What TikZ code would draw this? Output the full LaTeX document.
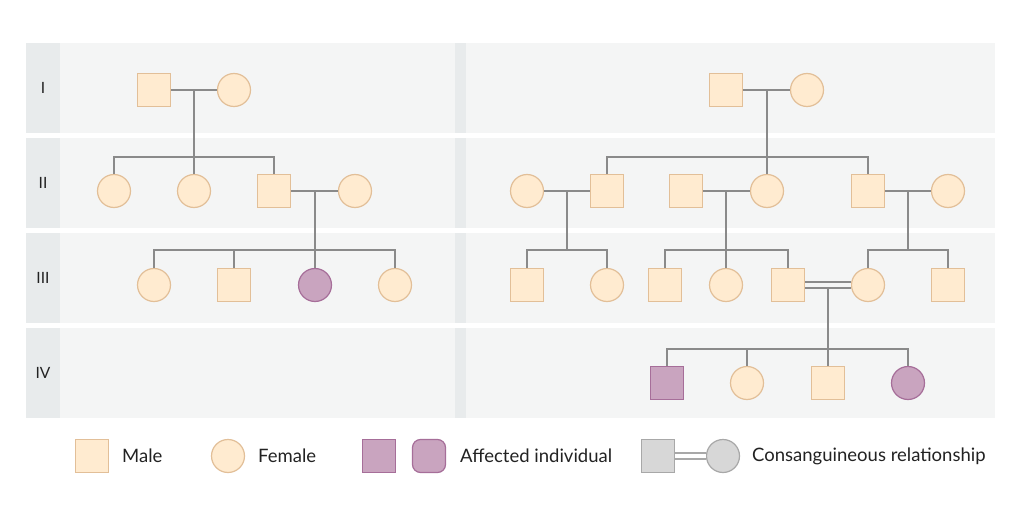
\documentclass[tikz,border=0pt]{standalone}
\usepackage{fontspec}
\setmainfont{Lato}
\usepackage{tikz}
\usetikzlibrary{shapes}
\pgfdeclarelayer{background}
\pgfsetlayers{background,main}
\definecolor{bandgray}{RGB}{244,245,245}
\definecolor{labelgray}{RGB}{232,235,236}
\definecolor{beige}{RGB}{255,235,208}
\definecolor{beigeline}{RGB}{226,191,152}
\definecolor{affected}{RGB}{201,164,191}
\definecolor{affline}{RGB}{166,110,153}
\definecolor{keygray}{RGB}{215,215,215}
\definecolor{keyline}{RGB}{168,168,168}
\definecolor{linegray}{RGB}{138,138,138}
\definecolor{textdark}{RGB}{34,34,34}

\begin{document}
\begin{tikzpicture}[x=1pt,y=-1pt,
        male/.style={draw=beigeline,fill=beige,line width=1.2pt,minimum size=33pt,inner sep=0pt},
        female/.style={male,circle},
        affmale/.style={male,draw=affline,fill=affected},
        afffemale/.style={affmale,circle},
        keymale/.style={male,draw=keyline,fill=keygray},
        keyfemale/.style={keymale,circle},
        link/.style={draw=linegray,line width=1.5pt},
        gen/.style={text=textdark,font=\fontsize{15.5}{18}\selectfont},
        keytext/.style={anchor=west,text=textdark,inner sep=0pt,font=\fontsize{18.5}{21}\selectfont}]
        \useasboundingbox (0,0) rectangle (1024,529);

        \begin{pgfonlayer}{background}
            \fill[white] (0,0) rectangle (1024,529);
            \foreach \r/\lab in {0/I,1/II,2/III,3/IV} {
                \fill[labelgray] (26,43+95*\r) rectangle (60,133+95*\r);
                \fill[bandgray] (60,43+95*\r) rectangle (455,133+95*\r);
                \fill[labelgray] (455,43+95*\r) rectangle (466,133+95*\r);
                \fill[bandgray] (466,43+95*\r) rectangle (995,133+95*\r);
                \node[gen] (gen\lab) at (43,88+95*\r) {\lab};
            }
        \end{pgfonlayer}

        % left family
        \node[male] (lI1) at (154,90) {};
        \node[female] (lI2) at (234,90) {};
        \node[female] (lII1) at (114,191) {};
        \node[female] (lII2) at (194,191) {};
        \node[male] (lII3) at (274,191) {};
        \node[female] (lII4) at (355,191) {};
        \node[female] (lIII1) at (154,285) {};
        \node[male] (lIII2) at (234,285) {};
        \node[afffemale] (lIII3) at (315,285) {};
        \node[female] (lIII4) at (395,285) {};

        \coordinate (lm1) at (194,90);
        \coordinate (ls1) at (194,157);
        \coordinate (lm2) at (315,191);
        \coordinate (ls2) at (315,250);

        \draw[link] (lI1) -- (lI2);
        \draw[link] (lm1) -- (ls1);
        \draw[link] (lII1) |- (ls1) -| (lII3);
        \draw[link] (lII2) -- (lII2 |- ls1);
        \draw[link] (lII3) -- (lII4);
        \draw[link] (lm2) -- (ls2);
        \draw[link] (lIII1) |- (ls2) -| (lIII4);
        \draw[link] (lIII2) -- (lIII2 |- ls2);
        \draw[link] (lIII3) -- (ls2);

        % right family
        \node[male] (rI1) at (726,90) {};
        \node[female] (rI2) at (807,90) {};
        \node[female] (rII1) at (527,191) {};
        \node[male] (rII2) at (607,191) {};
        \node[male] (rII3) at (686,191) {};
        \node[female] (rII4) at (767,191) {};
        \node[male] (rII5) at (868,191) {};
        \node[female] (rII6) at (948,191) {};
        \node[male] (rIII1) at (527,285) {};
        \node[female] (rIII2) at (607,285) {};
        \node[male] (rIII3) at (665,285) {};
        \node[female] (rIII4) at (726,285) {};
        \node[male] (rIII5) at (788,285) {};
        \node[female] (rIII6) at (868,285) {};
        \node[male] (rIII7) at (948,285) {};
        \node[affmale] (rIV1) at (667,383) {};
        \node[female] (rIV2) at (747,383) {};
        \node[male] (rIV3) at (828,383) {};
        \node[afffemale] (rIV4) at (908,383) {};

        \coordinate (rm1) at (767,90);
        \coordinate (rs1) at (767,157);
        \coordinate (rm2) at (567,191);
        \coordinate (rs2) at (567,250);
        \coordinate (rm3) at (726,191);
        \coordinate (rs3) at (726,250);
        \coordinate (rm4) at (908,191);
        \coordinate (rs4) at (908,250);
        \coordinate (rm5) at (828,288.5);
        \coordinate (rs5) at (828,349);

        \draw[link] (rI1) -- (rI2);
        \draw[link] (rm1) -- (rs1);
        \draw[link] (rII2) |- (rs1) -| (rII5);
        \draw[link] (rII4) -- (rs1);

        \draw[link] (rII1) -- (rII2);
        \draw[link] (rm2) -- (rs2);
        \draw[link] (rIII1) |- (rs2) -| (rIII2);

        \draw[link] (rII3) -- (rII4);
        \draw[link] (rm3) -- (rs3);
        \draw[link] (rIII3) |- (rs3) -| (rIII5);
        \draw[link] (rIII4) -- (rs3);

        \draw[link] (rII5) -- (rII6);
        \draw[link] (rm4) -- (rs4);
        \draw[link] (rIII6) |- (rs4) -| (rIII7);

        \draw[link,double=bandgray,double distance=4.5pt] (rIII5) -- (rIII6);
        \draw[link] (rm5) -- (rs5);
        \draw[link] (rIV1) |- (rs5) -| (rIV4);
        \draw[link] (rIV2) -- (rIV2 |- rs5);
        \draw[link] (rIV3) -- (rs5);

        % key
        \node[male] (keym) at (92,456) {};
        \node[keytext] (keymtext) at (122,456) {Male};
        \node[female] (keyf) at (228,456) {};
        \node[keytext] (keyftext) at (258,456) {Female};
        \node[affmale] (keya1) at (379,456) {};
        \node[affmale,rounded corners=8pt] (keya2) at (429,456) {};
        \node[keytext] (keyatext) at (460,456) {Affected individual};
        \node[keymale] (keyc1) at (658,456) {};
        \node[keyfemale] (keyc2) at (723,456) {};
        \draw[draw=keyline,line width=1.5pt,double=white,double distance=4.5pt] (keyc1) -- (keyc2);
        \node[keytext] (keyctext) at (752,456) {Consanguineous relationship};
\end{tikzpicture}
\end{document}
